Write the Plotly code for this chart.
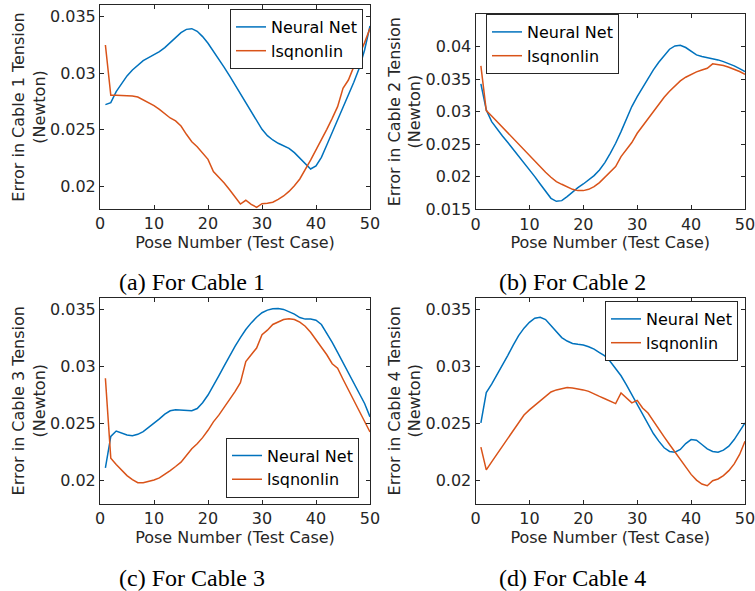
import plotly.graph_objects as go

poses = list(range(1, 51))

nn_c1 = [0.02721, 0.02738, 0.02835, 0.02909, 0.02974, 0.03026, 0.0307, 0.03109, 0.03135, 0.03159,
         0.03188, 0.03224, 0.03268, 0.03315, 0.03356, 0.03385, 0.03391, 0.03368, 0.03321, 0.03262,
         0.03194, 0.03124, 0.0305, 0.02974, 0.02894, 0.02815, 0.02732, 0.02653, 0.02571, 0.02503,
         0.02447, 0.02409, 0.0238, 0.02359, 0.02335, 0.02297, 0.02247, 0.02194, 0.02153, 0.0218,
         0.02256, 0.02365, 0.02474, 0.02585, 0.02694, 0.02806, 0.02918, 0.03041, 0.03203, 0.03415]
ls_c1 = [0.03247, 0.02803, 0.02803, 0.02803, 0.02803, 0.02797, 0.02788, 0.02765, 0.02738, 0.02712,
         0.02679, 0.02644, 0.02603, 0.02577, 0.02532, 0.02459, 0.02394, 0.0235, 0.02297, 0.02238,
         0.0213, 0.0208, 0.0203, 0.0197, 0.0191, 0.01844, 0.01877, 0.01841, 0.01815, 0.01847,
         0.0185, 0.0186, 0.01885, 0.01915, 0.01955, 0.02005, 0.02065, 0.02144, 0.02232, 0.02321,
         0.02409, 0.02503, 0.026, 0.02703, 0.02865, 0.02938, 0.03056, 0.03159, 0.03268, 0.03394]

nn_c2 = [0.03426, 0.03027, 0.02847, 0.0273, 0.02627, 0.02525, 0.02422, 0.0232, 0.02217, 0.02115,
         0.02002, 0.01889, 0.01771, 0.01669, 0.01623, 0.01633, 0.01695, 0.01771, 0.01833, 0.01889,
         0.01951, 0.02017, 0.02104, 0.02217, 0.0236, 0.02514, 0.02694, 0.02883, 0.03078, 0.03232,
         0.03375, 0.03513, 0.03641, 0.03759, 0.03867, 0.03959, 0.0401, 0.0402, 0.03985, 0.03923,
         0.03872, 0.03846, 0.03831, 0.03816, 0.03795, 0.03769, 0.03739, 0.03703, 0.03662, 0.03616]
ls_c2 = [0.03703, 0.03016, 0.02934, 0.02847, 0.0276, 0.02678, 0.02591, 0.02499, 0.02412, 0.0232,
         0.02233, 0.02156, 0.02069, 0.01992, 0.01925, 0.01884, 0.01848, 0.01807, 0.01787, 0.01787,
         0.01807, 0.01848, 0.0191, 0.01987, 0.02069, 0.02156, 0.02309, 0.02412, 0.02525, 0.02668,
         0.02781, 0.02899, 0.03011, 0.03119, 0.03221, 0.03314, 0.03395, 0.03472, 0.03529, 0.03575,
         0.03611, 0.03641, 0.03667, 0.03734, 0.03723, 0.03708, 0.03682, 0.03652, 0.03616, 0.03575]

nn_c3 = [0.02112, 0.02388, 0.02435, 0.02418, 0.024, 0.02394, 0.02406, 0.0243, 0.02465, 0.025,
         0.02541, 0.02582, 0.02612, 0.02621, 0.02618, 0.02612, 0.02612, 0.02632, 0.02682, 0.0275,
         0.02829, 0.02918, 0.03006, 0.03094, 0.03176, 0.03253, 0.03324, 0.03382, 0.03432, 0.03471,
         0.03494, 0.03506, 0.03509, 0.035, 0.03482, 0.03459, 0.03429, 0.03415, 0.03415, 0.03406,
         0.03368, 0.03294, 0.03212, 0.03124, 0.03035, 0.02947, 0.02859, 0.02771, 0.02676, 0.02559]
ls_c3 = [0.02897, 0.02197, 0.02141, 0.02088, 0.02044, 0.02009, 0.01982, 0.01982, 0.01991, 0.02006,
         0.02024, 0.02053, 0.02088, 0.02124, 0.02162, 0.02221, 0.0228, 0.02324, 0.02377, 0.02441,
         0.02515, 0.02574, 0.02641, 0.02712, 0.0278, 0.02859, 0.03044, 0.03103, 0.03162, 0.03279,
         0.03318, 0.03368, 0.03388, 0.03412, 0.03418, 0.03412, 0.03388, 0.03353, 0.033, 0.03235,
         0.03171, 0.03103, 0.03024, 0.02985, 0.02888, 0.02794, 0.027, 0.02612, 0.02515, 0.02426]

nn_c4 = [0.02506, 0.02771, 0.02845, 0.02926, 0.03009, 0.03098, 0.03188, 0.0327, 0.03336, 0.03387,
         0.03423, 0.03431, 0.03411, 0.0336, 0.03301, 0.03253, 0.03223, 0.03202, 0.03194, 0.03188,
         0.03173, 0.03152, 0.03122, 0.03093, 0.03044, 0.02986, 0.02919, 0.0284, 0.02753, 0.02666,
         0.02579, 0.02491, 0.02413, 0.02346, 0.02288, 0.02256, 0.0225, 0.02273, 0.02325, 0.0236,
         0.02354, 0.02317, 0.02279, 0.02256, 0.0225, 0.02267, 0.02302, 0.0236, 0.02433, 0.02506]
ls_c4 = [0.02294, 0.02094, 0.02165, 0.02235, 0.02305, 0.02375, 0.02445, 0.02515, 0.02575, 0.0262,
         0.02661, 0.02697, 0.02741, 0.02777, 0.02795, 0.02806, 0.02815, 0.02812, 0.02806, 0.02795,
         0.02782, 0.02758, 0.02738, 0.02718, 0.02695, 0.02675, 0.02768, 0.02724, 0.02681, 0.02703,
         0.02637, 0.02593, 0.0252, 0.02454, 0.02384, 0.02317, 0.0225, 0.0218, 0.02114, 0.02055,
         0.02005, 0.0197, 0.01956, 0.02, 0.02015, 0.02044, 0.02088, 0.02147, 0.0223, 0.02346]

x_ticks = [0, 10, 20, 30, 40, 50]
y_ticks_a = [0.02, 0.025, 0.03, 0.035]
y_ticks_b = [0.015, 0.02, 0.025, 0.03, 0.035, 0.04]
y_ranges = [[0.018, 0.036], [0.015, 0.045], [0.018, 0.036], [0.018, 0.036]]
captions = ["(a) For Cable 1", "(b) For Cable 2", "(c) For Cable 3", "(d) For Cable 4"]
series_names = ["Neural Net", "lsqnonlin"]

W, H = 755, 591
BLUE = "#0072BD"
ORANGE = "#D95319"
AX = "#262626"
FONT = "DejaVu Sans"

# pixel boxes (left, right, top, bottom)
boxes = [(100, 370, 5, 209), (475.5, 745, 14, 209.3), (100, 370, 298, 503.5), (475.5, 745, 298, 503.5)]
legend_pos = [
    dict(x=363 / W, y=1 - 9 / H, xanchor="right", yanchor="top"),
    dict(x=486 / W, y=1 - 14 / H, xanchor="left", yanchor="top"),
    dict(x=359 / W, y=1 - 497.5 / H, xanchor="right", yanchor="bottom"),
    dict(x=738 / W, y=1 - 301 / H, xanchor="right", yanchor="top"),
]
caption_pos = [(192, 282), (572, 282), (192, 578), (572, 578)]

data = [(nn_c1, ls_c1), (nn_c2, ls_c2), (nn_c3, ls_c3), (nn_c4, ls_c4)]

fig = go.Figure()
layout = {}
for i, (nn, ls) in enumerate(data):
    s = "" if i == 0 else str(i + 1)
    for vals, name, col in [(nn, series_names[0], BLUE), (ls, series_names[1], ORANGE)]:
        fig.add_trace(go.Scatter(x=poses, y=vals, mode="lines", name=name,
                                 line=dict(color=col, width=1.5),
                                 xaxis="x" + s, yaxis="y" + s, legend="legend" + s))
    l, r, t, b = boxes[i]
    yt = y_ticks_b if i == 1 else y_ticks_a
    layout["xaxis" + s] = dict(
        domain=[l / W, r / W], anchor="y" + s, range=[0, 50], automargin=False,
        tickvals=x_ticks, ticktext=[str(v) for v in x_ticks], ticklabeloverflow="allow",
        ticks="inside", ticklen=4, tickcolor=AX, showline=True, linecolor=AX, linewidth=1,
        mirror="ticks", showgrid=False, zeroline=False,
        tickfont=dict(family=FONT, size=16, color=AX),
        title=dict(text="Pose Number (Test Case)", font=dict(family=FONT, size=16, color=AX), standoff=2),
    )
    layout["yaxis" + s] = dict(
        domain=[1 - b / H, 1 - t / H], anchor="x" + s, range=y_ranges[i], automargin=False,
        tickvals=yt, ticktext=[("%.3f" % v).rstrip("0") for v in yt], ticklabeloverflow="allow",
        ticks="inside", ticklen=4, tickcolor=AX, showline=True, linecolor=AX, linewidth=1,
        mirror="ticks", showgrid=False, zeroline=False,
        tickfont=dict(family=FONT, size=16, color=AX),
        title=dict(text="Error in Cable %d Tension<br>(Newton)" % (i + 1),
                   font=dict(family=FONT, size=16, color=AX), standoff=0),
    )
    layout["legend" + s] = dict(
        **legend_pos[i], bgcolor="white", bordercolor=AX, borderwidth=1,
        font=dict(family=FONT, size=16, color="black"), itemwidth=30, tracegroupgap=0,
    )

annotations = []
for (cx, cy), txt in zip(caption_pos, captions):
    annotations.append(dict(text=txt, x=cx / W, y=1 - cy / H, xref="paper", yref="paper",
                            xanchor="center", yanchor="middle", showarrow=False,
                            font=dict(family="Liberation Serif", size=24, color="black")))

fig.update_layout(**layout)
fig.update_layout(width=W, height=H, margin=dict(l=0, r=0, t=0, b=0, autoexpand=False),
                  paper_bgcolor="white", plot_bgcolor="white", showlegend=True,
                  annotations=annotations)

fig.write_html("out.html", include_plotlyjs=True, config={"displayModeBar": False},
               post_script="document.body.style.margin='0';document.body.style.overflow='hidden';")
